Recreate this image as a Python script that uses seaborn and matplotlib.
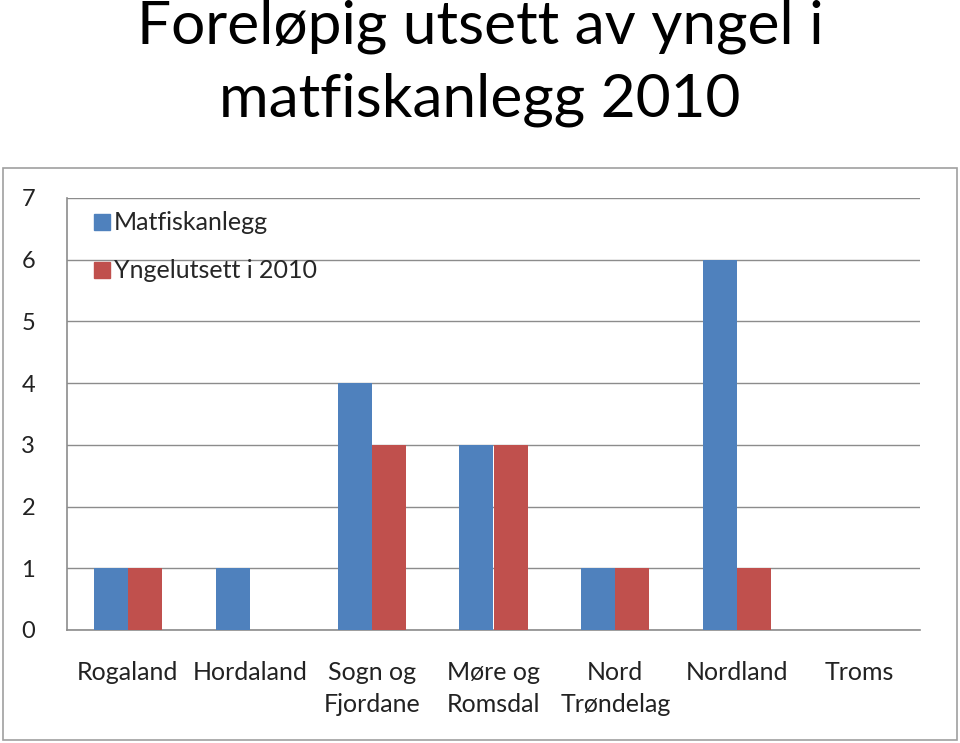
import matplotlib
matplotlib.use("Agg")
import matplotlib.pyplot as plt
import seaborn as sns
import pandas as pd
from matplotlib.patches import Rectangle
from matplotlib.lines import Line2D

categories = ["Rogaland", "Hordaland", "Sogn og\nFjordane", "Møre og\nRomsdal",
              "Nord\nTrøndelag", "Nordland", "Troms"]
matfiskanlegg = [1, 1, 4, 3, 1, 6, 0]
yngelutsett = [1, 0, 3, 3, 1, 1, 0]
series_names = ["Matfiskanlegg", "Yngelutsett i 2010"]
colors = ["#4F81BD", "#C0504D"]
title = "Foreløpig utsett av yngel i\nmatfiskanlegg 2010"

df = pd.DataFrame({
    "Fylke": categories * 2,
    "Antall": matfiskanlegg + yngelutsett,
    "Serie": [series_names[0]] * len(categories) + [series_names[1]] * len(categories),
})

sns.set_theme(style="white")
plt.rcParams['font.family'] = ['Lato', 'DejaVu Sans']

fig = plt.figure(figsize=(9.6, 7.43), dpi=100)
ax = fig.add_axes([67/960, 1 - 630/743, (920-67)/960, (630-198)/743])

# chart frame
fig.patches.append(Rectangle((3/960, 3/743), 954/960, (740-168)/743,
                             transform=fig.transFigure, fill=False,
                             edgecolor="#a0a0a0", linewidth=1.2, zorder=0))

sns.barplot(data=df, x="Fylke", y="Antall", hue="Serie", palette=colors,
            width=0.56, saturation=1, ax=ax, legend=False, zorder=3,
            linewidth=0, edgecolor="none")

ax.set_ylim(0, 7)
ax.set_xlim(-0.5, 6.5)
ax.set_yticks(range(0, 8))
ax.yaxis.grid(True, color="#8c8c8c", linewidth=1, zorder=0)
ax.set_axisbelow(True)
ax.set_xlabel("")
ax.set_ylabel("")
for s in ["top", "right"]:
    ax.spines[s].set_visible(False)
for s in ["left", "bottom"]:
    ax.spines[s].set_color("#8c8c8c")
    ax.spines[s].set_linewidth(1.2)

ax.set_xticks(range(len(categories)))
ax.set_xticklabels(categories, fontsize=18, color="#222222", linespacing=1.5)
ax.set_xticks([i - 0.5 for i in range(len(categories) + 1)], minor=True)
ax.tick_params(axis="x", which="major", length=0, pad=22)
ax.tick_params(axis="x", which="minor", length=8, color="#8c8c8c", width=1.2, direction="out")
ax.tick_params(axis="y", length=7, color="#8c8c8c", width=1.2, direction="out",
               labelsize=17, labelcolor="#222222", pad=16)

handles = [Line2D([0], [0], marker="s", linestyle="", markersize=11,
                  markerfacecolor=c, markeredgecolor=c) for c in colors]
ax.legend(handles, series_names, loc="upper left", bbox_to_anchor=(0.018, 0.992),
          frameon=False, fontsize=18, labelspacing=1.0, handletextpad=0.05,
          handlelength=0.8, borderaxespad=0)

fig.text(0.5, 1.0, title, ha="center", va="top", fontsize=43.5,
         linespacing=1.42, color="black")

fig.savefig("out.png", dpi=100)
